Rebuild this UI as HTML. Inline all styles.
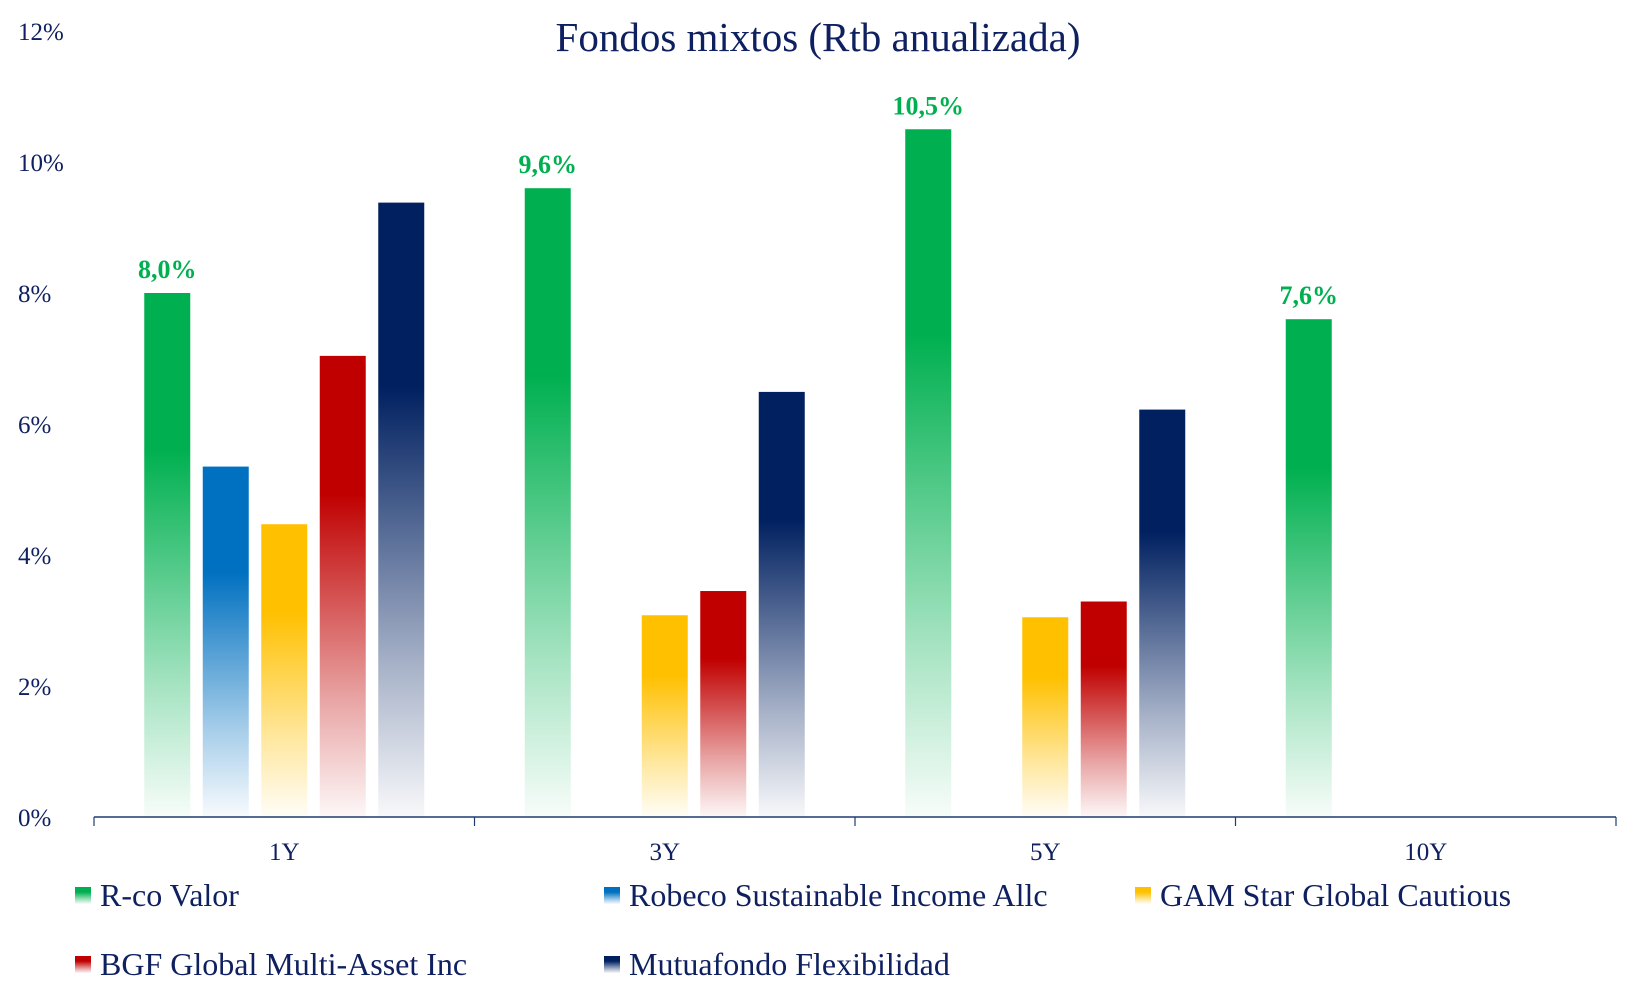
<!DOCTYPE html>
<html><head><meta charset="utf-8"><style>
body{margin:0;background:#fff;}
svg{display:block;font-family:"Liberation Serif",serif;}
</style></head><body>
<svg id="chart" width="1630" height="1000">
<defs id="defs"></defs>
<text x="818" y="51" text-anchor="middle" font-size="41" fill="#0f2060">Fondos mixtos (Rtb anualizada)</text>
<g id="yaxis"></g><g id="bars"></g><g id="xaxis"></g><g id="legend"></g>
</svg>
<script>
const categories=["1Y","3Y","5Y","10Y"];
const seriesNames=["R-co Valor","Robeco Sustainable Income Allc","GAM Star Global Cautious","BGF Global Multi-Asset Inc","Mutuafondo Flexibilidad"];
const rcoValor=[8.0,9.6,10.5,7.6];
const robeco=[5.35,null,null,null];
const gamStar=[4.47,3.08,3.05,null];
const bgf=[7.04,3.45,3.29,null];
const mutuafondo=[9.38,6.49,6.22,null];
const yTicks=[0,2,4,6,8,10,12];
const greenLabels=["8,0%","9,6%","10,5%","7,6%"];
const colors=["#00b050","#0070c0","#ffc000","#c00000","#002060"];
const series=[rcoValor,robeco,gamStar,bgf,mutuafondo];
const NS="http://www.w3.org/2000/svg";
const x0=94,x1=1616,y0=817,yTop=31,yMax=12;
const y=v=>y0-(v/yMax)*(y0-yTop);
const catW=(x1-x0)/categories.length, slot=58.5, bw=46;
const bx=(c,s)=>x0+c*catW+catW/2+(s-2)*slot-bw/2;
function mk(t,a,p){const e=document.createElementNS(NS,t);for(const k in a)e.setAttribute(k,a[k]);(p||document.getElementById('chart')).appendChild(e);return e;}
const defs=document.getElementById('defs');
colors.forEach((c,i)=>{const g=mk('linearGradient',{id:'g'+i,x1:0,y1:0,x2:0,y2:1},defs);
mk('stop',{offset:'0',"stop-color":c},g);mk('stop',{offset:'0.3',"stop-color":c},g);
mk('stop',{offset:'0.75',"stop-color":c,"stop-opacity":0.35},g);mk('stop',{offset:'1',"stop-color":c,"stop-opacity":0.03},g);});
const ya=document.getElementById('yaxis');
yTicks.forEach(t=>{const e=mk('text',{x:18,y:y(t)+9,"font-size":25,fill:"#0f2060"},ya);e.textContent=t+'%';

});
const bg=document.getElementById('bars');
series.forEach((arr,s)=>arr.forEach((v,c)=>{if(v==null)return;
const r=mk('rect',{x:bx(c,s),y:y(v),width:bw,height:y0-y(v),fill:'url(#g'+s+')'},bg);


if(s===0){const t=mk('text',{x:bx(c,s)+bw/2,y:y(v)-15,"text-anchor":"middle","font-size":26,"font-weight":"bold",fill:"#00b050"},bg);t.textContent=greenLabels[c];

}
}));
const xa=document.getElementById('xaxis');
const ax=mk('line',{x1:x0,y1:y0,x2:x1,y2:y0,stroke:"#1f3b70","stroke-width":1.5},xa);


for(let i=0;i<=categories.length;i++){mk('line',{x1:x0+i*catW,y1:y0,x2:x0+i*catW,y2:y0+9,stroke:"#1f3b70","stroke-width":1.2},xa);}
categories.forEach((c,i)=>{const t=mk('text',{x:x0+i*catW+catW/2,y:860,"text-anchor":"middle","font-size":25,fill:"#0f2060"},xa);t.textContent=c;

});
const lg=document.getElementById('legend');
const lpos=[[75,906],[604,906],[1135,906],[75,975],[604,975]];
seriesNames.forEach((n,i)=>{const g=mk('g',{},lg);


mk('rect',{x:lpos[i][0],y:lpos[i][1]-19,width:16,height:17,fill:'url(#g'+i+')'},g);
const t=mk('text',{x:lpos[i][0]+25,y:lpos[i][1],"font-size":32,fill:"#0f2060"},g);t.textContent=n;});
</script>
</body></html>
